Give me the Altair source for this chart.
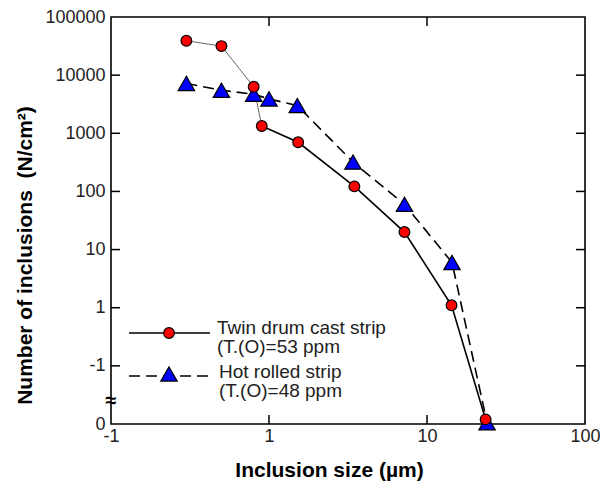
import altair as alt
import pandas as pd

# ---- data ----
twin_x = [0.30, 0.50, 0.80, 0.90, 1.53, 3.47, 7.2, 14.3, 23.5]
twin_y = [39000, 31600, 6300, 1330, 700, 122, 20, 1.1, 0.012]
hot_x = [0.30, 0.50, 0.80, 1.0, 1.51, 3.4, 7.2, 14.4, 24.0]
hot_y = [7200, 5500, 4700, 3900, 3000, 320, 60, 6.0, 0.0105]

x_tick_values = [0.1, 1, 10, 100]
x_tick_labels = ["-1", "1", "10", "100"]
y_tick_values = [0.01, 0.1, 1, 10, 100, 1000, 10000, 100000]
y_tick_labels = ["0", "-1", "1", "10", "100", "1000", "10000", "100000"]
inner_x_ticks = [1, 10]
inner_y_ticks = [0.1, 1, 10, 100, 1000, 10000]

legend_lines = [["Twin drum cast strip", "(T.(O)=53 ppm"],
                ["Hot rolled strip", "(T.(O)=48 ppm"]]

W, H = 474, 407
FONT = "Liberation Sans"

twin = pd.DataFrame({"x": twin_x, "y": twin_y, "i": range(len(twin_x))})
hot = pd.DataFrame({"x": hot_x, "y": hot_y})

def lab_expr(values, labels):
    expr = "''"
    for v, l in zip(values, labels):
        expr = f"abs(datum.value - {v}) < {v * 0.01} ? '{l}' : " + expr
    return expr

xs = alt.Scale(type="log", domain=[0.1, 100])
ys = alt.Scale(type="log", domain=[0.01, 100000])

x_axis = alt.Axis(
    values=x_tick_values, labelExpr=lab_expr(x_tick_values, x_tick_labels),
    ticks=False, domain=False, grid=False, labelPadding=3,
    labelFontSize=18, labelFont=FONT, labelColor="#222",
    title="Inclusion size (µm)", titleFont=FONT, titleFontSize=21,
    titleFontWeight="bold", titleX=218, titleY=46, titleBaseline="middle",
    titleAnchor="middle", labelFlush=False)
y_axis = alt.Axis(
    values=y_tick_values, labelExpr=lab_expr(y_tick_values, y_tick_labels),
    ticks=False, domain=False, grid=False, labelPadding=6,
    labelFontSize=18, labelFont=FONT, labelColor="#222",
    title="Number of inclusions \u00a0(N/cm²)", titleFont=FONT, titleFontSize=21,
    titleFontWeight="bold", titleX=-86, titleY=238, titleAngle=-90,
    titleBaseline="middle", titleAlign="center", labelFlush=False)

X = alt.X("x:Q", scale=xs, axis=x_axis)
Y = alt.Y("y:Q", scale=ys, axis=y_axis)

thin_line = alt.Chart(twin).transform_filter("datum.i <= 3").mark_line(
    color="#666", strokeWidth=1).encode(x=X, y=Y, order="i:Q")
thick_line = alt.Chart(twin).transform_filter("datum.i >= 3").mark_line(
    color="black", strokeWidth=1.6).encode(x=X, y=Y, order="i:Q")
hot_line = alt.Chart(hot).mark_line(
    color="black", strokeWidth=1.6, strokeDash=[11, 6]).encode(x=X, y=Y)
hot_pts = alt.Chart(hot).mark_point(
    shape="triangle-up", filled=True, fill="#0000ff", stroke="black",
    strokeWidth=1.2, size=270, opacity=1).encode(x=X, y=Y)
twin_pts = alt.Chart(twin).mark_point(
    shape="circle", filled=True, fill="#ff0000", stroke="black",
    strokeWidth=1.2, size=115, opacity=1).encode(x=X, y=Y)

# inward ticks on all four sides
yt = pd.DataFrame({"y": inner_y_ticks})
xt = pd.DataFrame({"x": inner_x_ticks})
tick_l = alt.Chart(yt).mark_rule(color="black", strokeWidth=1.5).encode(
    y=Y, x=alt.value(0), x2=alt.value(9))
tick_r = alt.Chart(yt).mark_rule(color="black", strokeWidth=1.5).encode(
    y=Y, x=alt.value(W - 9), x2=alt.value(W))
tick_t = alt.Chart(xt).mark_rule(color="black", strokeWidth=1.5).encode(
    x=X, y=alt.value(0), y2=alt.value(9))
tick_b = alt.Chart(xt).mark_rule(color="black", strokeWidth=1.5).encode(
    x=X, y=alt.value(H - 9), y2=alt.value(H))

brk = alt.Chart(pd.DataFrame({"t": ["≈"]})).mark_text(
    font=FONT, fontSize=20, fontWeight="bold", color="black", align="center",
    baseline="middle").encode(text="t:N", x=alt.value(0), y=alt.value(384))

# manual legend
one = pd.DataFrame({"a": [0]})
leg = []
leg.append(alt.Chart(one).mark_rule(color="black", strokeWidth=1.6).encode(
    x=alt.value(18), x2=alt.value(99), y=alt.value(316)))
leg.append(alt.Chart(one).mark_rule(
    color="black", strokeWidth=1.6, strokeDash=[11, 6]).encode(
    x=alt.value(18), x2=alt.value(99), y=alt.value(359)))
leg.append(alt.Chart(one).mark_point(
    shape="circle", filled=True, fill="#ff0000", stroke="black",
    strokeWidth=1.2, size=115, opacity=1).encode(
    x=alt.value(58), y=alt.value(316)))
leg.append(alt.Chart(one).mark_point(
    shape="triangle-up", filled=True, fill="#0000ff", stroke="black",
    strokeWidth=1.2, size=270, opacity=1).encode(
    x=alt.value(58), y=alt.value(357)))
for k, lines in enumerate(legend_lines):
    for j, txt in enumerate(lines):
        leg.append(alt.Chart(pd.DataFrame({"t": [txt]})).mark_text(
            font=FONT, fontSize=19, color="#222", align="left",
            baseline="middle").encode(
            text="t:N", x=alt.value(106 if k == 0 else 108),
            y=alt.value([311, 330][j] if k == 0 else [355, 374][j])))

chart = alt.layer(
    thin_line, thick_line, hot_line, hot_pts, twin_pts,
    tick_l, tick_r, tick_t, tick_b, brk, *leg
).properties(
    width=W, height=H,
    autosize=alt.AutoSizeParams(type="none"),
    padding={"left": 111, "top": 17, "right": 15, "bottom": 60},
    background="white",
).configure_view(stroke="black", strokeWidth=1.6)

chart.save("out.html", embed_options={"renderer": "svg", "actions": False})
